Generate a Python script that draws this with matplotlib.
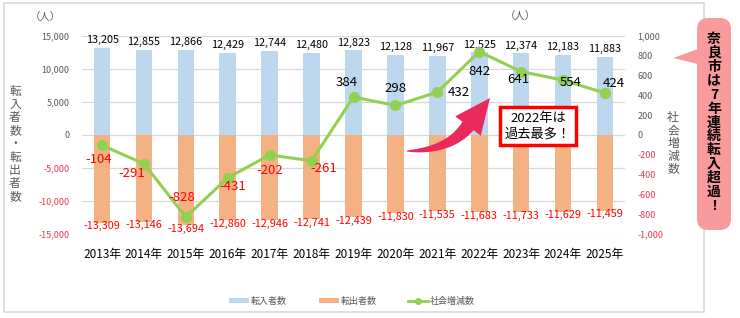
import matplotlib
matplotlib.use("Agg")
import numpy as np
import matplotlib.pyplot as plt
from matplotlib.patches import Rectangle, FancyBboxPatch, Polygon
from matplotlib.lines import Line2D
from matplotlib.patches import Patch

plt.rcParams['font.family'] = ['Noto Sans CJK JP', 'DejaVu Sans']

years = ["2013年", "2014年", "2015年", "2016年", "2017年", "2018年", "2019年",
         "2020年", "2021年", "2022年", "2023年", "2024年", "2025年"]
moved_in = [13205, 12855, 12866, 12429, 12744, 12480, 12823, 12128, 11967, 12525, 12374, 12183, 11883]
moved_out = [-13309, -13146, -13694, -12860, -12946, -12741, -12439, -11830, -11535, -11683, -11733, -11629, -11459]
social = [-104, -291, -828, -431, -202, -261, 384, 298, 432, 842, 641, 554, 424]
left_ticks = [-15000, -10000, -5000, 0, 5000, 10000, 15000]
right_ticks = [-1000, -800, -600, -400, -200, 0, 200, 400, 600, 800, 1000]

# label offsets (pixels) for the social line values
social_offsets = [(-3, -14), (-12, -10), (-4, 19), (5, -9), (0, -16), (12, -8), (-7, 14),
                  (0, 17), (22, 0), (0, -20), (-3, -8), (8, -2), (9, 10)]

W, H = 740, 318
fig = plt.figure(figsize=(W / 100, H / 100), dpi=100)


def fx(px):
    return px / W


def fy(py):
    return 1 - py / H


blue = '#BDD7EE'
orange = '#F4B183'
green = '#92D050'
red = '#FF0000'
neg_tick = '#E8384F'
gray = '#595959'

# outer frame
fig.patches.append(Rectangle((fx(4), fy(312)), 700 / W, 309 / H, transform=fig.transFigure,
                             fill=False, edgecolor='#D9D9D9', linewidth=1.2))

ax = fig.add_axes([fx(82), fy(234), 543 / W, 198 / H])
x = list(range(len(years)))
ax.bar(x, moved_in, width=0.4, color=blue, zorder=2)
ax.bar(x, moved_out, width=0.4, color=orange, zorder=2)
ax.set_xlim(-0.48, 12.48)
ax.set_ylim(-15000, 15000)
ax.set_yticks(left_ticks)
ax.set_yticklabels([f"{v:,}" for v in left_ticks], fontsize=6.5)
for lab, v in zip(ax.get_yticklabels(), left_ticks):
    lab.set_color(neg_tick if v < 0 else gray)
ax.set_xticks(x)
ax.set_xticklabels(years, fontsize=8.5, color='black')
ax.tick_params(axis='both', length=0)
ax.tick_params(axis='x', pad=10)
ax.tick_params(axis='y', pad=9)
ax.grid(axis='y', color='#D9D9D9', linewidth=0.9, zorder=0)
for s in ax.spines.values():
    s.set_visible(False)

for xi, v in zip(x, moved_in):
    ax.annotate(f"{v:,}", (xi, v), xytext=(0, 2), textcoords='offset points',
                ha='center', va='bottom', fontsize=7.8, color='black')
for xi, v in zip(x, moved_out):
    ax.annotate(f"{v:,}", (xi, v), xytext=(0, 1), textcoords='offset points',
                ha='center', va='top', fontsize=7.8, color=red)

ax2 = ax.twinx()
ax2.set_ylim(-1000, 1000)
ax2.plot(x, social, color=green, linewidth=2.2, marker='o', markersize=7, zorder=5)
ax2.set_yticks(right_ticks)
ax2.set_yticklabels([f"{v:,}" for v in right_ticks], fontsize=6.5)
for lab, v in zip(ax2.get_yticklabels(), right_ticks):
    lab.set_color(neg_tick if v < 0 else gray)
ax2.tick_params(axis='y', length=0, pad=9)
for s in ax2.spines.values():
    s.set_visible(False)
for xi, v, off in zip(x, social, social_offsets):
    ax2.annotate(f"{v:,}", (xi, v), xytext=off, textcoords='offset pixels',
                 ha='center', va='center', fontsize=9.5,
                 color=red if v < 0 else 'black', zorder=6)

# units
fig.text(fx(45), fy(18), "（人）", fontsize=7.5, color=gray, ha='center', va='center')
fig.text(fx(520), fy(17), "（人）", fontsize=7.5, color=gray, ha='center', va='center')


def vertical_text(s, cx, y0, pitch, **kw):
    for i, ch in enumerate(s):
        fig.text(fx(cx), fy(y0 + i * pitch), ch, ha='center', va='center', **kw)


# vertical axis titles
vertical_text("転入者数・転出者数", 15, 91, 13.2, fontsize=8.5, color=gray)
vertical_text("社会増減数", 673, 118, 12.7, fontsize=8.5, color=gray)

# callout on the right
pink = '#F99A9C'
fig.patches.append(FancyBboxPatch((fx(697), fy(230)), 34 / W, 212 / H,
                                  boxstyle="round,pad=0,rounding_size=0.015",
                                  transform=fig.transFigure, facecolor=pink, edgecolor='none',
                                  mutation_aspect=W / H))
fig.patches.append(Polygon([(fx(673), fy(58)), (fx(698), fy(49)), (fx(698), fy(64))],
                           closed=True, transform=fig.transFigure, facecolor=pink, edgecolor='none'))
vertical_text("奈良市は7年連続転入超過！", 714, 39, 13.9, fontsize=10, color='black',
              fontweight='bold')

# curved tapered arrow (pixel geometry)
P0 = np.array([407.0, 151.0])
P1 = np.array([449.0, 151.0])
P2 = np.array([468.0, 126.0])
tip = np.array([490.0, 98.0])
t = np.linspace(0, 1, 40)[:, None]
pts = (1 - t) ** 2 * P0 + 2 * (1 - t) * t * P1 + t ** 2 * P2
der = 2 * (1 - t) * (P1 - P0) + 2 * t * (P2 - P1)
der = der / np.linalg.norm(der, axis=1, keepdims=True)
nrm = np.column_stack([-der[:, 1], der[:, 0]])
wid = (0.5 + 6.5 * t[:, 0] ** 0.8)[:, None]
side_a = pts + nrm * wid
side_b = pts - nrm * wid
n_end = nrm[-1]
head_a = P2 + n_end * 16
head_b = P2 - n_end * 16
poly = np.vstack([side_a, head_a[None, :], tip[None, :], head_b[None, :], side_b[::-1]])
poly_fig = np.column_stack([poly[:, 0] / W, 1 - poly[:, 1] / H])
fig.patches.append(Polygon(poly_fig, closed=True, transform=fig.transFigure,
                           facecolor='#EA2A5C', edgecolor='none', zorder=10))

# annotation box
fig.text(fx(538), fy(126), "2022年は\n過去最多！", fontsize=9.5, color='black',
         ha='center', va='center', linespacing=1.25, zorder=11,
         bbox=dict(boxstyle='square,pad=0.35', facecolor='white', edgecolor=red, linewidth=2.5))

# legend
handles = [Patch(facecolor=blue, edgecolor='none'),
           Patch(facecolor=orange, edgecolor='none'),
           Line2D([0], [0], color=green, linewidth=2, marker='o', markersize=4)]
fig.legend(handles, ["転入者数", "転出者数", "社会増減数"], loc='center',
           bbox_to_anchor=(fx(352), fy(301)), ncol=3, frameon=False, fontsize=6.5,
           labelcolor=gray, handlelength=2.2, handleheight=0.6, columnspacing=3.5,
           handletextpad=0.2)

fig.savefig("out.png", dpi=100)
